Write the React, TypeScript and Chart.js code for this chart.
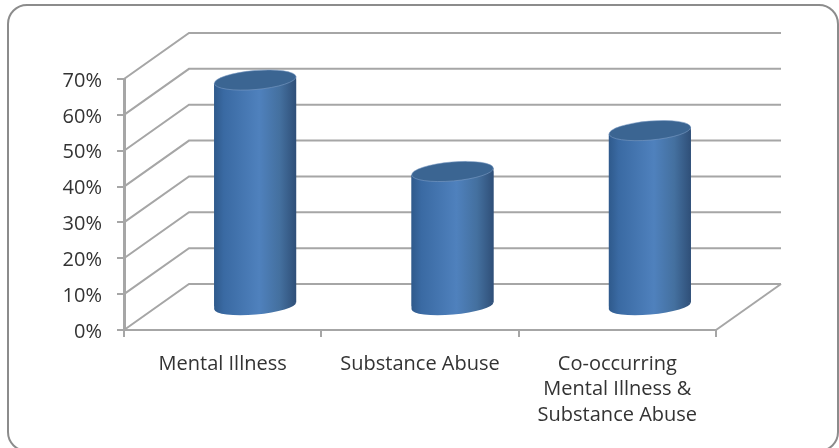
import { useEffect, useRef } from "react";
import { Chart, registerables } from "chart.js";

Chart.register(...registerables);

const categories = ["Mental Illness", "Substance Abuse", ["Co-occurring", "Mental Illness &", "Substance Abuse"]];
const shares = [63.3, 37.8, 49.2];
const yMax = 70;
const yStep = 10;

const DEPTH_X = 65;
const DEPTH_Y = -46;
const TILT = 0.085;
const FONT = "'Open Sans', sans-serif";
const TEXT_COLOR = "#333333";
const Y_FONT_SIZE = 20;

function barGradient(ctx: CanvasRenderingContext2D, left: number, right: number) {
  const g = ctx.createLinearGradient(left, 0, right, 0);
  g.addColorStop(0, "#2f5a8c");
  g.addColorStop(0.12, "#3a6aa3");
  g.addColorStop(0.55, "#4f81bd");
  g.addColorStop(0.8, "#44709f");
  g.addColorStop(1, "#2f4f78");
  return g;
}

// Floor, side wall and back wall of the 3D box behind the bars.
const wallsPlugin = {
  id: "walls",
  beforeDatasetsDraw(chart: any) {
    const { ctx, scales } = chart;
    const y = scales.y;
    const left = chart.chartArea.left;
    const right = chart.chartArea.right;
    ctx.save();
    ctx.strokeStyle = "#a6a6a6";
    ctx.lineWidth = 2;
    for (let v = 0; v <= yMax; v += yStep) {
      const py = y.getPixelForValue(v);
      ctx.beginPath();
      ctx.moveTo(left, py);
      ctx.lineTo(left + DEPTH_X, py + DEPTH_Y);
      ctx.lineTo(right + DEPTH_X, py + DEPTH_Y);
      ctx.stroke();
    }
    const base = y.getPixelForValue(0);
    ctx.beginPath();
    ctx.moveTo(right, base);
    ctx.lineTo(right + DEPTH_X, base + DEPTH_Y);
    ctx.stroke();
    ctx.restore();
  },
};

// The bars stand halfway into the box. Each one is given a slanted body with
// a round foot underneath, is clipped to that body, and then gets a round lid.
const cylinderPlugin = {
  id: "cylinders",
  beforeDatasetDraw(chart: any) {
    const { ctx } = chart;
    const bars = chart.getDatasetMeta(0).data;
    ctx.save();
    ctx.translate(DEPTH_X / 2, DEPTH_Y / 2);
    const bodyPath = (bar: any) => {
      const r = bar.width / 2;
      const drop = r * Math.tan(TILT);
      ctx.moveTo(bar.x - r, bar.y + drop);
      ctx.lineTo(bar.x + r, bar.y - drop);
      ctx.lineTo(bar.x + r, bar.base - drop);
      ctx.lineTo(bar.x - r, bar.base + drop);
      ctx.closePath();
    };
    bars.forEach((bar: any) => {
      const r = bar.width / 2;
      ctx.fillStyle = barGradient(ctx, bar.x - r, bar.x + r);
      ctx.beginPath();
      ctx.ellipse(bar.x, bar.base, r, 8.5, -TILT, 0, Math.PI * 2);
      bodyPath(bar);
      ctx.fill();
    });
    ctx.save();
    ctx.beginPath();
    bars.forEach(bodyPath);
    ctx.clip();
  },
  afterDatasetDraw(chart: any) {
    const { ctx } = chart;
    ctx.restore();
    chart.getDatasetMeta(0).data.forEach((bar: any) => {
      const r = bar.width / 2;
      ctx.beginPath();
      ctx.ellipse(bar.x, bar.y, r, 9.5, -TILT, 0, Math.PI * 2);
      ctx.fillStyle = "#3b6592";
      ctx.fill();
      ctx.strokeStyle = "rgba(130,160,200,0.55)";
      ctx.lineWidth = 1;
      ctx.stroke();
    });
    ctx.restore();
  },
};

// Percent labels sit a little below their tick marks.
const yLabelsPlugin = {
  id: "yLabels",
  afterDraw(chart: any) {
    const { ctx, scales } = chart;
    const y = scales.y;
    ctx.save();
    ctx.font = `${Y_FONT_SIZE}px ${FONT}`;
    ctx.fillStyle = TEXT_COLOR;
    ctx.textAlign = "right";
    ctx.textBaseline = "middle";
    y.ticks.forEach((t: any) => {
      ctx.fillText(`${t.value}%`, 102, y.getPixelForValue(t.value) + 2);
    });
    ctx.restore();
  },
};

export default function App() {
  const canvasRef = useRef<HTMLCanvasElement>(null);

  useEffect(() => {
    const chart = new Chart(canvasRef.current!, {
      type: "bar",
      data: {
        labels: categories as any,
        datasets: [
          {
            data: shares,
            barThickness: 82,
            backgroundColor: (c: any) => {
              const x = c.chart.scales.x;
              const center = x && c.dataIndex !== undefined ? x.getPixelForValue(c.dataIndex) : NaN;
              if (!Number.isFinite(center)) return "#4f81bd";
              return barGradient(c.chart.ctx, center - 41, center + 41);
            },
          },
        ],
      },
      options: {
        animation: false,
        responsive: false,
        layout: { padding: { top: 79, right: 123, left: 0, bottom: 0 } },
        plugins: { legend: { display: false }, tooltip: { enabled: false } },
        scales: {
          x: {
            afterFit: (s: any) => {
              s.height = 118;
            },
            border: { color: "#a6a6a6", width: 2 },
            grid: { drawOnChartArea: false, color: "#a6a6a6", tickLength: 7, lineWidth: 2 },
            ticks: {
              color: TEXT_COLOR,
              maxRotation: 0,
              autoSkip: false,
              padding: 14,
              font: { family: FONT, size: 20, lineHeight: 1.28 },
            },
          },
          y: {
            min: 0,
            max: yMax,
            afterFit: (s: any) => {
              s.width = 124;
            },
            border: { color: "#a6a6a6", width: 3 },
            grid: { drawOnChartArea: false, color: "#a6a6a6", tickLength: 7, lineWidth: 2 },
            ticks: { stepSize: yStep, display: false },
          },
        },
      },
      plugins: [wallsPlugin, cylinderPlugin, yLabelsPlugin],
    });
    return () => chart.destroy();
  }, []);

  return (
    <div style={{ position: "absolute", left: 0, top: 0, width: 839, height: 448, overflow: "hidden", background: "#fff" }}>
      <canvas ref={canvasRef} width={839} height={448} style={{ position: "absolute", left: 0, top: 0 }} />
      <div
        style={{
          position: "absolute",
          left: 7,
          top: 4,
          width: 832,
          height: 448,
          boxSizing: "border-box",
          border: "2px solid #8c8c8c",
          borderRadius: 20,
          pointerEvents: "none",
        }}
      />
    </div>
  );
}
